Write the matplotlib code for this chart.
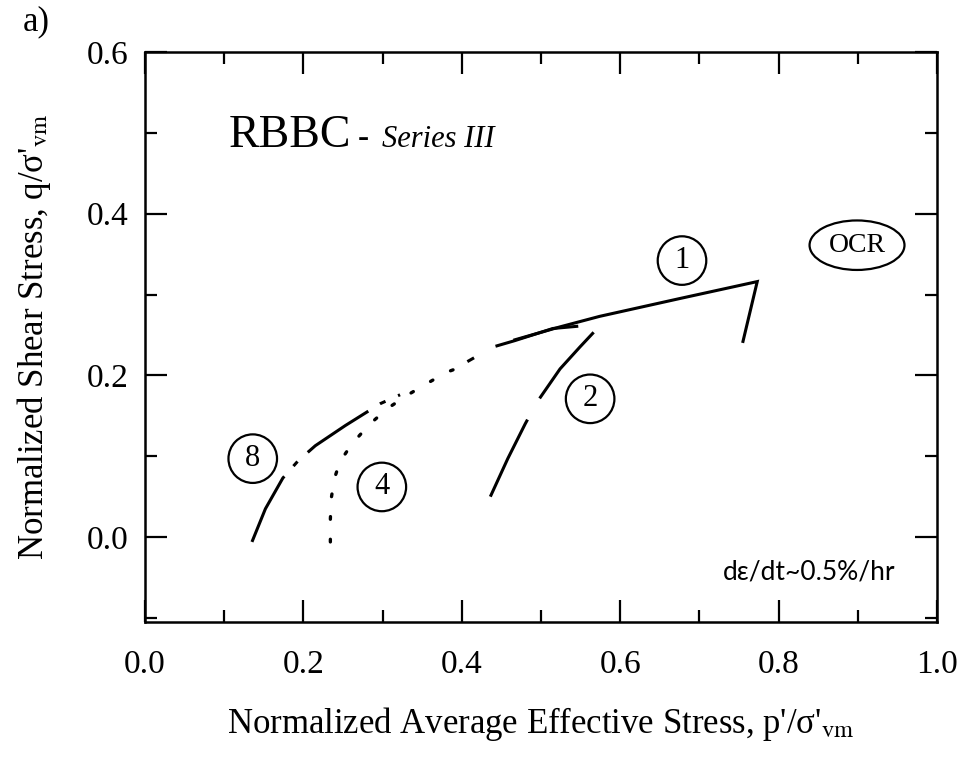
import matplotlib
matplotlib.use("Agg")
import matplotlib.pyplot as plt
from matplotlib.ticker import MultipleLocator

plt.rcParams['font.family'] = ['Liberation Serif', 'DejaVu Serif']
plt.rcParams['mathtext.fontset'] = 'stix'

# stress paths (p'/sigma'vm, q/sigma'vm)
ocr1_p = [0.755, 0.773, 0.675, 0.574, 0.524, 0.467]
ocr1_q = [0.242, 0.316, 0.295, 0.273, 0.260, 0.244]

ocr2_p = [0.436, 0.458, 0.480, 0.495, 0.524, 0.549, 0.571, 0.549, 0.515, 0.467, 0.439, 0.407]
ocr2_q = [0.050, 0.097, 0.140, 0.167, 0.208, 0.235, 0.258, 0.261, 0.258, 0.243, 0.235, 0.217]

ocr4_p = [0.234, 0.234, 0.235, 0.239, 0.246, 0.261, 0.283, 0.306, 0.332, 0.356, 0.381, 0.395]
ocr4_q = [-0.006, 0.022, 0.047, 0.072, 0.093, 0.115, 0.139, 0.159, 0.176, 0.190, 0.204, 0.209]

ocr8_p = [0.135, 0.152, 0.174, 0.193, 0.215, 0.253, 0.297, 0.322]
ocr8_q = [-0.006, 0.035, 0.073, 0.094, 0.113, 0.138, 0.165, 0.176]

ocr_labels = ['1', '2', '4', '8']
label_p = [0.678, 0.562, 0.299, 0.136]
label_q = [0.342, 0.171, 0.062, 0.097]

fig = plt.figure(figsize=(9.65, 7.61), dpi=100)
ax = fig.add_axes([0.1503, 0.1827, 0.8207, 0.749])

ax.plot(ocr1_p, ocr1_q, color='black', lw=2.2, solid_joinstyle='miter')
ax.plot(ocr2_p, ocr2_q, color='black', lw=2.2, dashes=(28, 8))
ax.plot(ocr4_p, ocr4_q, color='black', lw=2.4, dashes=(0.8, 6), dash_capstyle='round')
ax.plot(ocr8_p, ocr8_q, color='black', lw=2.2, dashes=(24, 4.5, 2, 4.5))

for lab, p, q in zip(ocr_labels, label_p, label_q):
    ax.text(p, q, lab, fontsize=22, ha='center', va='center',
            bbox=dict(boxstyle='circle,pad=0.32', fc='white', ec='black', lw=1.6))
ax.text(0.899, 0.361, 'OCR', fontsize=20, ha='center', va='center',
        bbox=dict(boxstyle='ellipse,pad=0.18', fc='white', ec='black', lw=1.6))

ax.text(0.105, 0.483, 'RBBC', fontsize=33, ha='left', va='baseline')
ax.text(0.268, 0.483, '-', fontsize=24, ha='left', va='baseline')
ax.text(0.299, 0.483, 'Series III', fontsize=22, style='italic', ha='left', va='baseline')
ax.text(0.838, -0.043, 'dε/dt~0.5%/hr', fontsize=19, ha='center', va='center',
        family=['Lato', 'DejaVu Sans'])

ax.set_xlim(0.0, 1.0)
ax.set_ylim(-0.105, 0.6)
ax.xaxis.set_major_locator(MultipleLocator(0.2))
ax.xaxis.set_minor_locator(MultipleLocator(0.1))
ax.yaxis.set_minor_locator(MultipleLocator(0.1))
ax.set_yticks([0.0, 0.2, 0.4, 0.6])
ax.tick_params(which='both', direction='in', top=True, right=True, width=1.6, labelsize=24)
ax.tick_params(which='major', length=16)
ax.tick_params(which='minor', length=8.5)
ax.tick_params(axis='x', pad=20)
ax.tick_params(axis='y', pad=12)
ax.xaxis.set_major_formatter(plt.FuncFormatter(lambda v, _: f'{v:.1f}'))
ax.yaxis.set_major_formatter(plt.FuncFormatter(lambda v, _: f'{v:.1f}'))
for s in ax.spines.values():
    s.set_linewidth(1.8)

ax.set_xlabel("Normalized Average Effective Stress, p'/σ'$_{\\mathrm{vm}}$", fontsize=25, labelpad=18)
ax.set_ylabel("Normalized Shear Stress, q/σ'$_{\\mathrm{vm}}$", fontsize=25, labelpad=24)

fig.text(0.038, 0.971, 'a)', fontsize=25, ha='center', va='center')

fig.savefig('out.png', dpi=100)
